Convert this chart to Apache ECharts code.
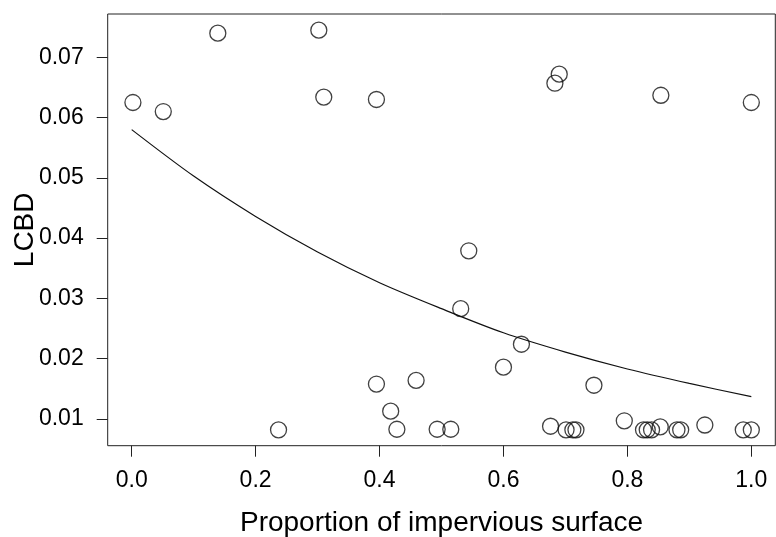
<!DOCTYPE html>
<html>
<head>
<meta charset="utf-8">
<script src="https://cdn.jsdelivr.net/npm/echarts@6/dist/echarts.min.js"></script>
<style>
html,body{margin:0;padding:0;background:#fff;}
#c{width:776px;height:537px;}
</style>
</head>
<body>
<div id="c"></div>
<script>
var imperv = [0.002, 0.051, 0.139, 0.302, 0.310, 0.395, 0.690, 0.683, 0.854, 1.000, 0.544,
  0.237, 0.395, 0.418, 0.428, 0.531, 0.629, 0.600, 0.459, 0.746, 0.795,
  0.493, 0.515, 0.676, 0.701, 0.712, 0.717, 0.826, 0.832, 0.839, 0.853, 0.880, 0.886, 0.925, 0.987, 1.000];
var lcbd = [0.0625, 0.0610, 0.0740, 0.0745, 0.0634, 0.0630, 0.0672, 0.0657, 0.0637, 0.0625, 0.0379,
  0.0082, 0.0158, 0.0113, 0.0083, 0.0283, 0.0224, 0.0186, 0.0164, 0.0156, 0.0097,
  0.0083, 0.0083, 0.0088, 0.0082, 0.0082, 0.0082, 0.0082, 0.0082, 0.0082, 0.0087, 0.0082, 0.0082, 0.0090, 0.0082, 0.0082];

// Fitted curve, values
var fitX = [0.0, 0.1, 0.2, 0.3, 0.4, 0.5, 0.6, 0.7, 0.8, 0.9, 1.0];
var fitY = [0.0580, 0.0503, 0.0436, 0.0377, 0.0326, 0.0283, 0.0243, 0.0211, 0.0183, 0.0159, 0.0137];

// Tick labels
var xTicks = [0.0, 0.2, 0.4, 0.6, 0.8, 1.0];
var yTicks = [0.01, 0.02, 0.03, 0.04, 0.05, 0.06, 0.07];

var points = imperv.map(function (x, i) { return [x, lcbd[i]]; });
var curve = fitX.map(function (x, i) { return [x, fitY[i]]; });

var FONT = "'Liberation Sans', Arial, Helvetica, sans-serif";
var chart = echarts.init(document.getElementById('c'), null, {renderer: 'canvas'});
chart.setOption({
  animation: false,
  backgroundColor: '#fff',
  grid: {
    left: 107.7, right: 0.7, top: 14, bottom: 91.3,
    show: true, borderColor: '#222', borderWidth: 1, backgroundColor: 'transparent',
    containLabel: false, outerBoundsMode: 'none'
  },
  xAxis: {
    type: 'value', min: -0.0387, max: 1.0387,
    name: 'Proportion of impervious surface', nameLocation: 'middle', nameGap: 64, nameMoveOverlap: false,
    nameTextStyle: {fontFamily: FONT, fontSize: 28, color: '#000'},
    axisLine: {show: false, onZero: false},
    axisTick: {show: true, length: 11, inside: false, customValues: xTicks, lineStyle: {color: '#222', width: 1}},
    axisLabel: {customValues: xTicks, margin: 23, fontFamily: FONT, fontSize: 23, color: '#000',
      formatter: function (v) { return v.toFixed(1); }},
    splitLine: {show: false}
  },
  yAxis: {
    type: 'value', min: 0.00557, max: 0.07718,
    name: 'LCBD', nameLocation: 'middle', nameGap: 68, nameRotate: 90, nameMoveOverlap: false,
    nameTextStyle: {fontFamily: FONT, fontSize: 28, color: '#000'},
    axisLine: {show: false, onZero: false},
    axisTick: {show: true, length: 11, inside: false, customValues: yTicks, lineStyle: {color: '#222', width: 1}},
    axisLabel: {customValues: yTicks, margin: 24, fontFamily: FONT, fontSize: 23, color: '#000',
      formatter: function (v) { return v.toFixed(2); }},
    splitLine: {show: false}
  },
  series: [
    {
      type: 'line', data: curve, smooth: 0.3, symbol: 'none',
      lineStyle: {color: '#111', width: 1.2}, silent: true, z: 2
    },
    {
      type: 'scatter', data: points, symbol: 'circle', symbolSize: 16,
      itemStyle: {color: 'rgba(0,0,0,0)', borderColor: '#111', borderWidth: 1.3}, z: 3
    }
  ]
});
</script>
</body>
</html>
